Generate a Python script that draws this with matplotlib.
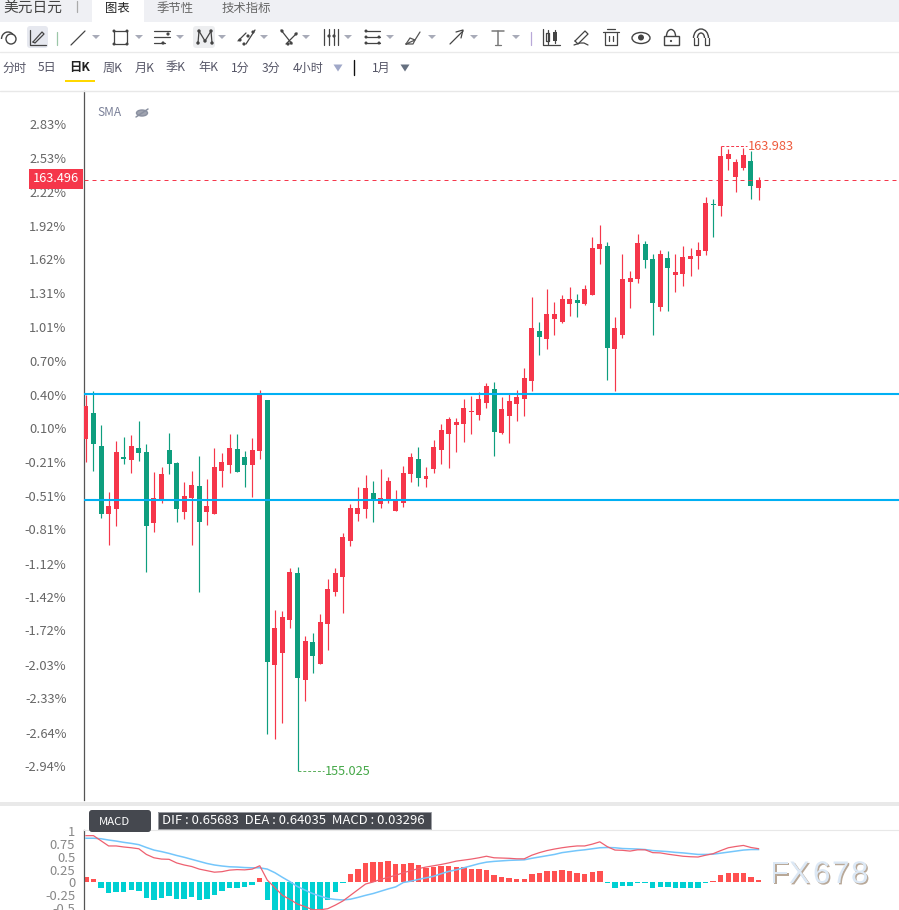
import matplotlib
matplotlib.use("Agg")
import matplotlib.pyplot as plt
from matplotlib.patches import Rectangle, FancyBboxPatch, Circle, Polygon, Ellipse, Arc
import matplotlib.patheffects as pe
import numpy as np

plt.rcParams['font.family'] = ['Noto Sans CJK SC', 'DejaVu Sans']

# ---------- data ----------
opens = [159.784,160.157,159.684,158.708,158.780,159.526,159.483,159.655,159.598,158.579,
         158.909,159.626,159.440,158.737,158.938,159.110,158.737,158.708,159.325,159.411,
         159.640,159.526,159.411,159.612,160.343,156.544,156.716,157.189,157.863,156.330,
         156.874,156.559,157.132,157.591,157.806,158.321,158.708,158.780,159.009,158.852,
         158.909,158.751,158.866,159.282,159.497,159.210,159.353,159.626,159.856,159.985,
         159.999,160.171,160.128,160.300,160.500,159.870,160.114,160.286,160.357,160.615,
         161.332,161.217,161.504,161.461,161.719,161.776,161.719,161.848,162.507,162.550,
         161.074,161.274,162.034,162.077,162.579,162.364,161.676,162.378,162.134,162.149,
         162.364,162.407,162.478,163.152,163.123,163.797,163.539,163.668,163.768,163.381]
closes = [160.257,159.712,158.708,158.823,159.598,159.497,159.684,159.583,158.536,158.938,
          159.282,159.426,158.780,158.966,159.124,158.594,158.823,159.382,159.454,159.655,
          159.311,159.411,159.626,160.415,156.587,157.075,157.232,157.877,156.358,156.888,
          156.674,157.161,157.634,157.863,158.379,158.794,158.794,159.081,158.923,158.938,
          159.181,158.895,159.297,159.526,159.224,159.253,159.669,159.913,160.071,160.028,
          160.228,160.185,160.357,160.543,159.884,160.214,160.329,160.386,160.658,161.375,
          161.246,161.575,161.575,161.790,161.790,161.733,161.934,162.521,162.579,161.088,
          161.375,162.077,162.091,162.593,162.349,161.733,162.435,162.235,162.177,162.392,
          162.407,162.493,163.166,163.138,163.840,163.869,163.754,163.854,163.410,163.496]
highs = [160.415,160.472,159.985,159.024,159.755,159.813,159.841,160.042,159.712,159.311,
         159.382,159.870,159.454,159.167,159.325,159.540,159.210,159.655,159.583,159.856,
         159.856,159.612,159.798,160.486,160.343,157.333,157.318,157.935,157.949,156.960,
         157.003,157.275,157.777,157.935,158.436,158.852,159.095,159.267,159.181,159.353,
         159.239,159.052,159.396,159.583,159.669,159.382,159.769,159.999,160.099,160.085,
         160.357,160.400,160.458,160.587,160.601,160.386,160.429,160.486,160.802,161.819,
         161.461,161.934,161.747,161.848,161.962,161.862,161.991,162.679,162.851,162.607,
         161.532,162.435,162.192,162.722,162.622,162.435,162.493,162.478,162.435,162.550,
         162.521,162.607,163.252,163.224,163.983,163.940,163.797,163.955,163.912,163.539]
lows = [159.454,159.325,158.651,158.264,158.536,159.426,159.297,159.469,157.877,158.450,
        158.866,159.282,158.594,158.637,158.264,157.591,158.551,158.708,159.095,159.297,
        159.311,159.095,158.952,159.497,155.556,155.484,155.713,157.075,155.025,156.029,
        156.430,156.559,156.760,157.533,157.290,158.250,158.608,158.651,158.594,158.794,
        158.866,158.751,158.809,159.167,159.110,159.095,159.297,159.426,159.368,159.598,
        159.741,159.856,160.056,160.228,159.540,159.856,159.727,160.042,160.114,160.472,
        160.988,161.074,161.274,161.446,161.547,161.532,161.704,161.848,162.292,160.629,
        160.472,161.231,161.661,162.020,162.235,161.274,161.618,161.618,161.891,161.977,
        162.120,162.220,162.421,162.679,162.980,163.639,163.324,163.639,163.224,163.209]

last_price = 163.496
hlines_price = [160.429, 158.909]
max_label, min_label = 163.983, 155.025
pct_labels = [2.83,2.53,2.22,1.92,1.62,1.31,1.01,0.70,0.40,0.10,-0.21,-0.51,-0.81,-1.12,
              -1.42,-1.72,-2.03,-2.33,-2.64,-2.94]

macd_hist = [.10,.065,-.117,-.21,-.19,-.19,-.155,-.17,-.31,-.34,-.31,-.27,-.325,-.325,-.29,
             -.34,-.33,-.235,-.17,-.10,-.10,-.08,-.04,.085,-.34,-.75,-.95,-1.0,-.95,-.85,
             -.70,-.51,-.34,-.18,-.01,.16,.27,.38,.40,.40,.415,.36,.36,.38,.34,.28,.30,.32,.32,
             .30,.30,.26,.26,.24,.14,.10,.085,.065,.065,.16,.18,.22,.22,.24,.22,.18,.16,.20,.22,
             -.01,-.10,-.07,-.07,-.015,-.015,-.11,-.09,-.09,-.115,-.11,-.11,-.10,-.015,.02,.14,
             .18,.18,.18,.10,.045]
dif = [.91,.91,.81,.71,.71,.69,.675,.655,.545,.48,.455,.45,.38,.34,.31,.26,.23,.20,.21,.24,
       .25,.245,.26,.325,.045,-.10,-.25,-.33,-.42,-.47,-.53,-.53,-.51,-.44,-.36,-.25,-.14,-.03,
       .01,.06,.10,.14,.19,.23,.27,.30,.325,.35,.38,.415,.435,.455,.48,.51,.48,.475,.47,.46,.46,
       .53,.58,.62,.65,.675,.695,.71,.71,.745,.79,.695,.63,.625,.61,.635,.635,.58,.575,.55,.53,
       .51,.50,.495,.53,.56,.62,.675,.70,.72,.68,.657]
dea = [.86,.86,.85,.825,.805,.78,.76,.735,.68,.63,.60,.565,.525,.49,.45,.41,.37,.34,.32,.305,
       .30,.29,.285,.285,.26,.19,.10,.015,-.08,-.15,-.215,-.265,-.31,-.33,-.34,-.325,-.29,-.25,
       -.215,-.17,-.125,-.085,0,.025,.06,.09,.12,.17,.215,.245,.285,.325,.365,.395,.41,.42,.43,
       .435,.44,.47,.495,.52,.545,.58,.60,.62,.635,.655,.675,.68,.675,.66,.655,.65,.64,.62,.61,
       .60,.585,.575,.56,.545,.545,.55,.57,.59,.61,.63,.64,.64]
macd_ticks = [1,.75,.5,.25,0,-.25,-.5]
macd_tick_labels = ['1','0.75','0.5','0.25','0','-0.25','-0.5']

# ---------- layout ----------
W, H = 899, 910
RED, GREEN = '#F5364A', '#0E9E7E'
fig = plt.figure(figsize=(W/100, H/100), dpi=100, facecolor='white')

def px_axes(x0, y0, x1, y1, **kw):
    return fig.add_axes([x0/W, 1-y1/H, (x1-x0)/W, (y1-y0)/H], **kw)

STEP = 7.557
X0 = 85.94
AX_L = 83.5
idx = np.arange(len(opens))
xlim = ((AX_L-X0)/STEP, (899-X0)/STEP)

# ---------- main candles ----------
ax = px_axes(AX_L, 91, 899, 800, facecolor='white')
ax.set_xlim(*xlim)
ax.set_ylim(154.610, 164.772)
colors = [RED if c >= o else GREEN for o, c in zip(opens, closes)]
ax.vlines(idx, lows, highs, colors=colors, lw=0.85, zorder=2)
o_, c_ = np.array(opens), np.array(closes)
ax.bar(idx, np.abs(c_-o_), bottom=np.minimum(o_, c_), width=0.66, color=colors, lw=0, zorder=3)
for p in hlines_price:
    ax.axhline(p, color='#00B0F4', lw=1.5, zorder=4)
ax.axhline(last_price, color='#F5364A', lw=0.72, ls=(0, (4, 4)), zorder=5)

def pct_to_price(pc):
    return 160.42 + (pc-0.40)*1.5943
ax.set_yticks([pct_to_price(v) for v in pct_labels])
ax.set_yticklabels([f'{v:.2f}%' for v in pct_labels], fontsize=9.3, color='#666666')
ax.tick_params(axis='y', length=0, pad=12.3)
ax.set_xticks([])
for s in ('top', 'right', 'bottom'):
    ax.spines[s].set_visible(False)
ax.spines['left'].set_color('#555555')
ax.spines['left'].set_linewidth(0.9)

# extreme labels
i_max, i_min = int(np.argmax(highs)), int(np.argmin(lows))
ax.hlines(max_label, i_max+0.1, i_max+3.5, color=RED, lw=0.7, ls=(0, (3, 2)), zorder=5)
ax.text(i_max+3.6, max_label, f'{max_label:.3f}', color='#EE5A3C', fontsize=9.2, va='center', ha='left')
ax.hlines(min_label, i_min+0.1, i_min+3.5, color='#5AAE5A', lw=0.7, ls=(0, (3, 2)), zorder=5)
ax.text(i_min+3.6, min_label, f'{min_label:.3f}', color='#45A848', fontsize=9.2, va='center', ha='left')

# ---------- MACD ----------
am = px_axes(AX_L, 830, 899, 910, facecolor='none')
am.set_xlim(*xlim)
am.set_ylim(-0.535, 1.02)
bar_colors = ['#FF5050' if v >= 0 else '#00D0D2' for v in macd_hist]
am.bar(idx, macd_hist, width=0.72, color=bar_colors, lw=0, zorder=2)
am.plot(idx, dea, color='#74C6FB', lw=1.1, zorder=3)
am.plot(idx, dif, color='#EE6070', lw=0.9, zorder=4)
am.set_yticks(macd_ticks)
am.set_yticklabels(macd_tick_labels, fontsize=9.4, color='#888888')
am.tick_params(axis='y', length=0, pad=6)
am.set_xticks([])
for s in ('right', 'bottom'):
    am.spines[s].set_visible(False)
am.spines['top'].set_color('#E8E8E8')
am.spines['left'].set_color('#555555')
am.spines['left'].set_linewidth(0.9)

# ---------- pixel overlay (page furniture) ----------
ov = fig.add_axes([0, 0, 1, 1], facecolor='none', zorder=10)
ov.set_xlim(0, W); ov.set_ylim(H, 0); ov.axis('off')

def rect(x0, y0, x1, y1, c, z=1):
    ov.add_patch(Rectangle((x0, y0), x1-x0, y1-y0, fc=c, ec='none', zorder=z))
def line(xs, ys, c='#444444', lw=1.0, z=3):
    ov.plot(xs, ys, color=c, lw=lw*0.9, zorder=z, solid_capstyle='round')
def dot(x, y, r=1.6, c='#444444'):
    ov.add_patch(Circle((x, y), r, fc=c, ec='none', zorder=4))
def tri(x, y, c='#A8ABB8', w=4, h=4):
    ov.add_patch(Polygon([(x-w, y-h/2), (x+w, y-h/2), (x, y+h/2)], fc=c, ec='none', zorder=3))
def txt(x, y, s, size=8.7, c='#555555', ha='left', weight='normal'):
    ov.text(x, y, s, fontsize=size, color=c, ha=ha, va='center', fontweight=weight, zorder=5)

# header tabs
rect(0, 0, W, 22, '#EFF0F4')
rect(92, 0, 144, 22, 'white')
txt(3, 8, '美元日元', 10.6, '#444444')
line([77, 77], [1, 12], '#AAAAAA')
txt(105, 8.5, '图表', 8.9, '#222222')
txt(157, 8.5, '季节性', 8.9, '#666666')
txt(222, 8.5, '技术指标', 8.9, '#666666')

# separators
line([0, W], [51.5, 51.5], '#EAEAEA', 1.1)
line([0, W], [90.5, 90.5], '#E8E8E8', 1.1)
rect(0, 802, W, 806, '#E9E9E9')

# toolbar highlights
ov.add_patch(FancyBboxPatch((27, 26), 21, 22, boxstyle='round,pad=0,rounding_size=3', fc='#E6E8EF', ec='none', zorder=1))
ov.add_patch(FancyBboxPatch((193, 26), 22, 22, boxstyle='round,pad=0,rounding_size=3', fc='#EDEEF0', ec='none', zorder=1))

# toolbar icons
ov.add_patch(Circle((11, 39), 5, fc='none', ec='#444444', lw=1.0, zorder=3))
ov.add_patch(Arc((8, 39), 13, 14, theta1=180, theta2=320, fc='none', ec='#444444', lw=1.0, zorder=3))
line([30, 30, 46], [30, 45, 45]); line([33, 42, 44, 35, 33], [42, 32, 34, 43, 42])
line([57, 57], [32, 45], '#9CC7A8')
line([71, 85], [45, 31]); tri(96, 37)
line([114, 127, 127, 114, 114], [31, 31, 44, 44, 31])
for a, b in [(114, 31), (127, 31), (127, 44), (114, 44)]:
    dot(a, b, 1.5)
tri(139, 37)
for y_, xe in [(31, 170), (37, 170), (43, 165)]:
    line([154, xe], [y_, y_])
dot(168, 34); dot(163, 43); tri(180, 37)
line([198, 199, 205, 211, 212], [43, 31, 41, 31, 43])
for a, b in [(198, 43), (199, 31), (205, 41), (211, 31), (212, 43)]:
    dot(a, b, 1.7)
tri(222, 37)
line([238, 246], [41, 33]); line([246, 255], [44, 30]); dot(240, 40); dot(248, 36); dot(244, 44); dot(253, 32); tri(264, 37)
line([281, 292], [30, 44]); line([286, 297], [44, 33]); dot(282, 31); dot(291, 43); dot(288, 44); dot(296, 34); tri(306, 37)
for x_ in (324, 329, 334, 338):
    line([x_, x_], [29, 45])
dot(329, 36, 1.6); dot(334, 36, 1.6); tri(348, 37)
line([365, 380], [31, 31]); line([365, 380], [37, 37]); line([365, 380], [43, 43])
for a, b in [(366, 31), (366, 37), (366, 43), (379, 37), (379, 43)]:
    dot(a, b, 1.5)
tri(390, 37)
line([406, 410, 415, 420], [44, 38, 40, 32], '#555555'); line([406, 413, 415, 406], [44, 44, 40, 44], '#555555'); tri(432, 37)
line([450, 463], [44, 31]); line([456, 463, 461], [32, 30, 38]); tri(474, 37)
line([492, 504], [31, 31], '#777777', 1.2); line([498, 498], [31, 45], '#777777', 1.2); line([495, 501], [45, 45], '#777777'); tri(516, 37)
line([530.5, 530.5], [32, 45], '#B8A8D8')
line([543, 543, 560], [29, 45, 45])
rect(546, 33, 549, 41, 'white', 3); line([546, 549, 549, 546, 546], [33, 33, 41, 41, 33]); line([547.5, 547.5], [30, 44])
rect(553, 32, 557, 41, '#444444', 3); line([555, 555], [30, 43])
line([575, 585, 588, 578, 575], [41, 31, 34, 44, 41]); line([574, 580, 584, 588], [45, 43, 43, 45])
line([603, 619], [32, 32]); line([607, 615], [29, 29]); line([605, 605, 617, 617], [33, 45, 45, 33]); line([609, 609], [36, 41]); line([613, 613], [36, 41])
ov.add_patch(Ellipse((641, 38), 18, 11, fc='none', ec='#444444', lw=1.0, zorder=3)); dot(641, 37.5, 3)
ov.add_patch(Rectangle((664, 36), 15, 9, fc='none', ec='#444444', lw=1.0, zorder=3)); dot(671, 41, 1.1)
ov.add_patch(Arc((671, 36), 9, 13, theta1=180, theta2=360, ec='#444444', lw=1.0, zorder=3))
ov.add_patch(Arc((701, 38), 15, 18, theta1=180, theta2=360, ec='#444444', lw=1.0, zorder=3))
ov.add_patch(Arc((701, 38), 7, 10, theta1=180, theta2=360, ec='#444444', lw=1.0, zorder=3))
line([693.5, 693.5, 697.5, 697.5], [38, 45, 45, 38]); line([704.5, 704.5, 708.5, 708.5], [38, 45, 45, 38])

# period row
for x_, s in [(2, '分时'), (38, '5日'), (103, '周K'), (135, '月K'), (166, '季K'), (198, '年K'),
              (231, '1分'), (262, '3分'), (293, '4小时'), (372, '1月')]:
    txt(x_, 68, s, 8.7, '#555566')
txt(69, 68, '日K', 8.9, '#222222', weight='bold')
rect(65, 80, 95, 82, '#FFD800')
tri(338, 68, '#A0A8C8', 4.5, 7)
tri(405, 68, '#667080', 4.5, 7)
line([353.5, 353.5], [60, 75], '#111111', 1.1)

# SMA
txt(97, 112, 'SMA', 8.6, '#7A8098')
ov.add_patch(Ellipse((142, 113), 11, 6, fc='#A0A4B0', ec='#8A90A0', lw=1.0, zorder=3))
line([136, 148], [117, 109], '#8A90A0', 1.2)

# last-price tag
rect(29, 169, 83, 189, RED, 6)
ov.text(55.5, 179, f'{last_price:.3f}', fontsize=9.2, color='white', ha='center', va='center', zorder=7)

# MACD legend
ov.add_patch(FancyBboxPatch((89, 810), 62, 22, boxstyle='round,pad=0,rounding_size=3', fc='#45484F', ec='none', zorder=6))
ov.text(99, 822, 'MACD', fontsize=8.2, color='white', va='center', zorder=7)
tri(146, 821, '#8A8D95', 3, 3)
rect(158, 812, 431, 829, '#45484F', 6)
ov.add_patch(Rectangle((158, 812), 273, 17, fc='none', ec='#9A9CA2', lw=0.7, zorder=7))
ov.text(162, 821, 'DIF : 0.65683  DEA : 0.64035  MACD : 0.03296', fontsize=9.4, color='white', va='center', zorder=7)

# watermark
shadow = [pe.withSimplePatchShadow(offset=(1, -1), shadow_rgbFace='#B8A898', alpha=1.0)]
for x_, ch in [(770, 'F'), (789, 'X'), (813, '6'), (832, '7'), (851, '8')]:
    ov.text(x_, 875, ch, fontsize=22.5, family='Liberation Sans', color='#DCE8F5', va='center',
            zorder=9, path_effects=shadow)

fig.savefig('out.png', dpi=100)
